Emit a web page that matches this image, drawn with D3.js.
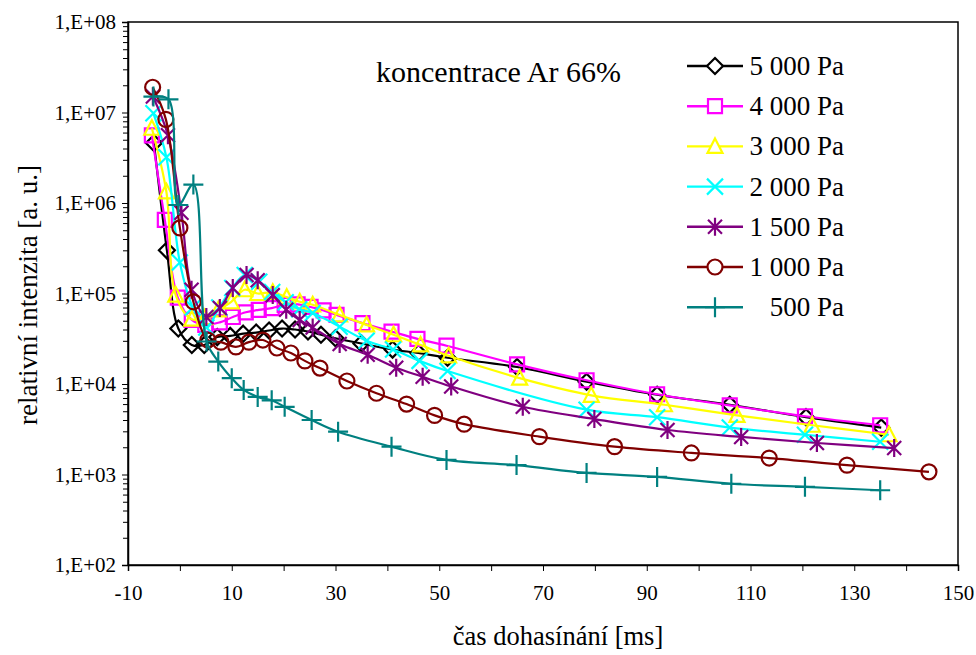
<!DOCTYPE html>
<html>
<head>
<meta charset="utf-8">
<script src="https://cdn.jsdelivr.net/npm/d3@7"></script>
<style>
  html, body { margin: 0; padding: 0; background: #fff; }
  svg text { font-family: "Liberation Serif", "Times New Roman", serif; fill: #000; }
</style>
</head>
<body>
<svg id="chart" width="976" height="655"></svg>
<script>
// Afterglow decay of relative intensity, Ar 66 % mixture, at several pressures.
const seriesNames = ["5 000 Pa", "4 000 Pa", "3 000 Pa", "2 000 Pa", "1 500 Pa", "1 000 Pa", "500 Pa"];

const t5000 = [-5.0, -2.5, -0.3, 2.3, 4.7, 7.2, 9.7, 12.2, 14.7, 17.2, 19.7, 22.2, 24.7, 27.2, 30, 35, 41, 46, 51.6, 65, 78.4, 92, 106, 120.7, 135.2];
const v5000 = [4.6e6, 3.0e5, 4.1e4, 2.7e4, 2.7e4, 3.3e4, 3.4e4, 3.6e4, 3.7e4, 3.9e4, 4.1e4, 4.0e4, 3.8e4, 3.5e4, 3.2e4, 2.8e4, 2.4e4, 2.2e4, 1.95e4, 1.54e4, 1.06e4, 7.6e3, 5.9e3, 4.3e3, 3.3e3];

const t4000 = [-5.4, -2.9, -0.4, 2.3, 4.9, 7.7, 10.2, 12.7, 15.2, 17.7, 20.2, 22.7, 25.2, 27.7, 30.2, 35.2, 40.8, 45.8, 51.4, 65, 78.4, 92, 106, 120.5, 135];
const v4000 = [5.6e6, 6.5e5, 9.0e4, 5.1e4, 4.5e4, 4.8e4, 5.5e4, 6.2e4, 6.6e4, 6.9e4, 7.5e4, 7.6e4, 7.1e4, 6.5e4, 5.8e4, 4.7e4, 3.8e4, 3.15e4, 2.65e4, 1.65e4, 1.1e4, 7.7e3, 5.8e3, 4.4e3, 3.5e3];

const t3000 = [-5.4, -2.6, -0.8, 2.3, 4.8, 7.4, 9.9, 12.5, 15.0, 17.9, 20.6, 23.1, 25.6, 30.8, 36.0, 41.2, 46.4, 51.8, 65.5, 79.3, 93.4, 107.4, 121.9, 136.7];
const v3000 = [6.7e6, 1.33e6, 9.6e4, 5.2e4, 5.4e4, 6.6e4, 8.1e4, 1.1e5, 1.0e5, 1.03e5, 9.1e4, 8.1e4, 7.5e4, 5.8e4, 4.5e4, 3.5e4, 2.7e4, 2.05e4, 1.16e4, 7.5e3, 5.9e3, 4.5e3, 3.5e3, 2.75e3];

const t2000 = [-5.1, -2.6, 0, 2.5, 5.1, 7.6, 10.1, 12.5, 15.3, 17.8, 20.4, 23.0, 25.6, 30.8, 36.0, 41.1, 46.2, 51.6, 78.4, 92, 106, 120.5, 135];
const v2000 = [9.8e6, 3.2e6, 2.2e5, 7.0e4, 4.2e4, 7.0e4, 1.15e5, 1.6e5, 1.35e5, 1.04e5, 8.0e4, 6.7e4, 6.1e4, 4.3e4, 3.0e4, 2.4e4, 1.8e4, 1.39e4, 5.2e3, 4.3e3, 3.3e3, 2.75e3, 2.3e3];

const t1500 = [-5.2, -2.3, 0.3, 2.25, 5.1, 7.7, 10.2, 12.85, 15.0, 17.9, 20.5, 23.1, 25.6, 30.8, 36.2, 41.7, 46.8, 52.3, 66.1, 79.9, 94, 108.2, 122.8, 137.7];
const v1500 = [1.5e7, 5.6e6, 7.8e5, 1.1e5, 5.5e4, 6.9e4, 1.15e5, 1.6e5, 1.4e5, 9.6e4, 6.6e4, 5.1e4, 4.2e4, 2.77e4, 2.1e4, 1.51e4, 1.2e4, 9.4e3, 5.6e3, 4.1e3, 3.1e3, 2.6e3, 2.23e3, 1.96e3];

const t1000 = [-5.25, -2.7, 0, 2.6, 5.4, 7.9, 10.8, 13.3, 16.0, 18.7, 21.4, 24.1, 27.0, 32.2, 37.9, 43.7, 49.1, 54.8, 69.3, 83.8, 98.6, 113.6, 128.6, 144.4];
const v1000 = [1.9e7, 8.4e6, 5.3e5, 8.1e4, 3.06e4, 2.9e4, 2.57e4, 2.9e4, 3.06e4, 2.5e4, 2.2e4, 1.8e4, 1.5e4, 1.08e4, 7.9e3, 6.0e3, 4.5e3, 3.6e3, 2.62e3, 2.03e3, 1.73e3, 1.52e3, 1.27e3, 1.07e3];

const t500 = [-5.1, -2.2, -0.3, 2.6, 5.15, 7.4, 10.0, 12.3, 15.0, 17.7, 20.2, 25.4, 30.5, 40.8, 51.4, 64.9, 78.4, 92.0, 106.3, 120.5, 135];
const v500 = [1.5e7, 1.4e7, 9.5e5, 1.6e6, 2.95e4, 1.77e4, 1.16e4, 8.6e3, 7.2e3, 6.6e3, 5.6e3, 4.0e3, 2.97e3, 2.03e3, 1.45e3, 1.27e3, 1.04e3, 9.4e2, 7.9e2, 7.3e2, 6.7e2];

const xTickLabels = [-10, 10, 30, 50, 70, 90, 110, 130, 150];
const yTickLabels = ["1,E+02", "1,E+03", "1,E+04", "1,E+05", "1,E+06", "1,E+07", "1,E+08"];
const annotation = "koncentrace Ar 66%";
const xTitle = "čas dohasínání [ms]";
const yTitle = "relativní intenzita [a. u.]";

const seriesTimes = [t5000, t4000, t3000, t2000, t1500, t1000, t500];
const seriesValues = [v5000, v4000, v3000, v2000, v1500, v1000, v500];
const seriesColors = ["#000000", "#ff00ff", "#ffff00", "#00ffff", "#800080", "#800000", "#008080"];
const seriesMarkers = ["diamond", "square", "triangle", "cross", "asterisk", "circle", "plus"];

const svg = d3.select("#chart");
const plot = { left: 128, right: 958, top: 22, bottom: 565 };

const x = d3.scaleLinear().domain([-10, 150]).range([plot.left, plot.right]);
const y = d3.scaleLog().domain([1e2, 1e8]).range([plot.bottom, plot.top]);

// marker path generators, centred on (0,0)
function markerPath(kind) {
  switch (kind) {
    case "diamond": return "M0,-8L8,0L0,8L-8,0Z";
    case "square": return "M-7,-7H7V7H-7Z";
    case "triangle": return "M0,-8L7.5,6.5H-7.5Z";
    case "cross": return "M-8,-8L8,8M-8,8L8,-8";
    case "asterisk": return "M-7,-7L7,7M-7,7L7,-7M0,-9V9";
    case "circle": return "M7.5,0A7.5,7.5 0 1,1 -7.5,0A7.5,7.5 0 1,1 7.5,0Z";
    case "plus": return "M-10,0H10M0,-10V10";
  }
}

// frame around the plot area
svg.append("rect")
  .attr("x", plot.left).attr("y", plot.top)
  .attr("width", plot.right - plot.left).attr("height", plot.bottom - plot.top)
  .attr("fill", "none").attr("stroke", "#000").attr("stroke-width", 1.5);

// y axis: decades with labels, minor log ticks
const yAxis = d3.axisLeft(y)
  .tickValues(d3.range(2, 9).map(k => Math.pow(10, k)))
  .tickFormat((d, i) => yTickLabels[i])
  .tickSize(6).tickPadding(6);
const gy = svg.append("g").attr("transform", `translate(${plot.left},0)`).call(yAxis);
gy.select(".domain").attr("stroke-width", 1.5);
gy.selectAll("text").attr("font-size", 21);

const minorY = [];
for (let k = 2; k < 8; k++) for (let m = 2; m <= 9; m++) minorY.push(m * Math.pow(10, k));
svg.append("g").attr("transform", `translate(${plot.left},0)`)
  .call(d3.axisLeft(y).tickValues(minorY).tickFormat("").tickSize(5))
  .call(g => g.select(".domain").remove());

// x axis
const xAxis = d3.axisBottom(x)
  .tickValues(d3.range(-10, 151, 10))
  .tickFormat(d => xTickLabels.includes(d) ? d : "")
  .tickSize(6).tickPadding(14);
const gx = svg.append("g").attr("transform", `translate(0,${plot.bottom})`).call(xAxis);
gx.select(".domain").attr("stroke-width", 1.5);
gx.selectAll("text").attr("font-size", 21);

// axis titles
svg.append("text").attr("x", 558).attr("y", 645).attr("text-anchor", "middle")
  .attr("font-size", 26.5).text(xTitle);
svg.append("text").attr("transform", "translate(37,295) rotate(-90)")
  .attr("text-anchor", "middle").attr("font-size", 27).text(yTitle);

// series lines and markers
const line = d3.line().curve(d3.curveCatmullRom.alpha(0.5));
seriesNames.forEach((name, i) => {
  const pts = seriesTimes[i].map((t, j) => [x(t), y(seriesValues[i][j])]);
  const g = svg.append("g");
  g.append("path").attr("d", line(pts)).attr("fill", "none")
    .attr("stroke", seriesColors[i]).attr("stroke-width", 2.2);
  g.selectAll("path.m").data(pts).join("path").attr("class", "m")
    .attr("transform", d => `translate(${d[0]},${d[1]})`)
    .attr("d", markerPath(seriesMarkers[i]))
    .attr("fill", "none").attr("stroke", seriesColors[i]).attr("stroke-width", 2.2);
});

// annotation
svg.append("text").attr("x", 376).attr("y", 82).attr("font-size", 30).text(annotation);

// legend
const legend = svg.append("g");
seriesNames.forEach((name, i) => {
  const ly = 66 + i * 40.2;
  legend.append("line").attr("x1", 687).attr("x2", 743).attr("y1", ly).attr("y2", ly)
    .attr("stroke", seriesColors[i]).attr("stroke-width", 2.4);
  legend.append("path").attr("transform", `translate(715,${ly})`)
    .attr("d", markerPath(seriesMarkers[i])).attr("fill", "#fff")
    .attr("stroke", seriesColors[i]).attr("stroke-width", 2.2);
  legend.append("text").attr("x", 844).attr("y", ly + 9).attr("text-anchor", "end")
    .attr("font-size", 27).text(name);
});
</script>
</body>
</html>
